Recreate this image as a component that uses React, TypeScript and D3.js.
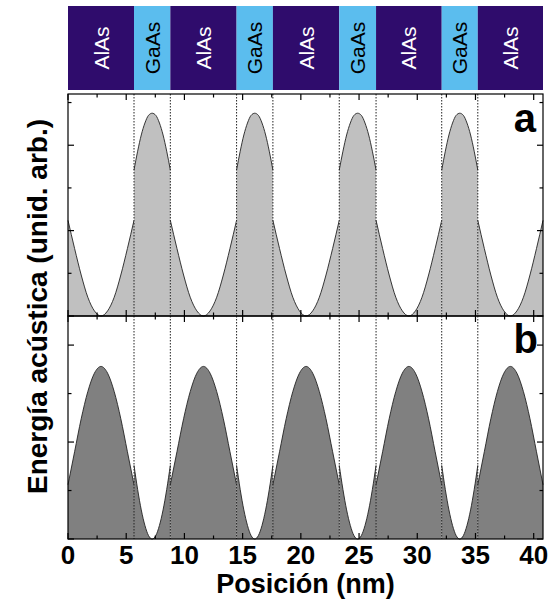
import React from "react";
import * as d3 from "d3";

// Layer interfaces (nm) and materials
const interfaces = [0, 5.67, 8.79, 14.48, 17.6, 23.3, 26.46, 32.1, 35.2, 40.8];
const materials = ["AlAs", "GaAs", "AlAs", "GaAs", "AlAs", "GaAs", "AlAs", "GaAs", "AlAs"];

// Relative position inside each layer (0 = left interface, 1 = right interface)
const profileFrac = [0, 0.1, 0.2, 0.3, 0.4, 0.5, 0.6, 0.7, 0.8, 0.9, 1];

// Panel a: acoustic energy (arb. units) inside AlAs and GaAs layers
const energyA_AlAs = [1.12, 0.79, 0.48, 0.22, 0.06, 0, 0.06, 0.22, 0.48, 0.79, 1.12];
const energyA_GaAs = [1.71, 1.93, 2.12, 2.26, 2.35, 2.375, 2.35, 2.26, 2.12, 1.93, 1.71];

// Panel b
const energyB_AlAs = [0.56, 0.9, 1.24, 1.52, 1.71, 1.78, 1.71, 1.52, 1.24, 0.9, 0.56];
const energyB_GaAs = [0.76, 0.51, 0.3, 0.14, 0.035, 0, 0.035, 0.14, 0.3, 0.51, 0.76];

const xTickValues = [0, 5, 10, 15, 20, 25, 30, 35, 40];
const xTickLabels = ["0", "5", "10", "15", "20", "25", "30", "35", "40"];
const xMinorTicks = [2.5, 7.5, 12.5, 17.5, 22.5, 27.5, 32.5, 37.5];
const yTicksA = [0, 0.5, 1, 1.5, 2, 2.5];
const yTicksB = [0, 0.5, 1, 1.5, 2];

const xTitle = "Posición (nm)";
const yTitle = "Energía acústica (unid. arb.)";

const COL_ALAS = "#2f0c6c";
const COL_GAAS = "#5bbdee";
const FONT = "'Liberation Sans', Arial, Helvetica, sans-serif";

export default function App() {
  const left = 68, right = 543;
  const bandTop = 6, bandBottom = 90;
  const aTop = 94, mid = 316, bBottom = 539;

  const x = d3.scaleLinear().domain([0, 40.8]).range([left, right]);
  const yA = d3.scaleLinear().domain([0, 2.6]).range([mid, aTop]);
  const yB = d3.scaleLinear().domain([0, 2.3]).range([bBottom, mid]);

  const layers = materials.map((m, i) => ({ m, x0: interfaces[i], x1: interfaces[i + 1] }));

  const buildPts = (vals: number[], x0: number, x1: number) =>
    profileFrac.map((f, i) => [x0 + f * (x1 - x0), vals[i]] as [number, number]);

  const panel = (
    ys: d3.ScaleLinear<number, number>,
    alVals: number[],
    gaVals: number[],
    fill: string,
    key: string
  ) => {
    const area = d3
      .area<[number, number]>()
      .x((d) => x(d[0]))
      .y0(ys(0))
      .y1((d) => ys(d[1]))
      .curve(d3.curveMonotoneX);
    const line = d3
      .line<[number, number]>()
      .x((d) => x(d[0]))
      .y((d) => ys(d[1]))
      .curve(d3.curveMonotoneX);
    return layers.map((l, i) => {
      const pts = buildPts(l.m === "AlAs" ? alVals : gaVals, l.x0, l.x1);
      return (
        <g key={key + i}>
          <path d={area(pts) || ""} fill={fill} stroke="none" />
          <path d={line(pts) || ""} fill="none" stroke="#222" strokeWidth={0.9} />
        </g>
      );
    });
  };

  const xTicks = (y: number, dir: number, k: string) => (
    <g key={k}>
      {xTickValues.map((v) => (
        <line key={k + "M" + v} x1={x(v)} x2={x(v)} y1={y} y2={y + dir * 6} stroke="#000" strokeWidth={1.2} />
      ))}
      {xMinorTicks.map((v) => (
        <line key={k + "m" + v} x1={x(v)} x2={x(v)} y1={y} y2={y + dir * 3.5} stroke="#000" strokeWidth={1.2} />
      ))}
    </g>
  );

  const yTicks = (ys: d3.ScaleLinear<number, number>, vals: number[], k: string) => (
    <g key={k}>
      {vals.map((v) => {
        const len = Number.isInteger(v) ? 6 : 3.5;
        return (
          <g key={k + v}>
            <line x1={left} x2={left + len} y1={ys(v)} y2={ys(v)} stroke="#000" strokeWidth={1.2} />
            <line x1={right} x2={right - len} y1={ys(v)} y2={ys(v)} stroke="#000" strokeWidth={1.2} />
          </g>
        );
      })}
    </g>
  );

  const inner = interfaces.slice(1, -1);

  return (
    <svg
      width={550}
      height={605}
      style={{ position: "absolute", left: 0, top: 0, background: "#fff" }}
      fontFamily={FONT}
    >
      <rect x={0} y={0} width={550} height={605} fill="#fff" />
      {/* Layer band */}
      {layers.map((l, i) => {
        const cx = (x(l.x0) + x(l.x1)) / 2;
        const cy = (bandTop + bandBottom) / 2;
        return (
          <g key={"band" + i}>
            <rect
              x={x(l.x0)}
              y={bandTop}
              width={x(l.x1) - x(l.x0)}
              height={bandBottom - bandTop}
              fill={l.m === "AlAs" ? COL_ALAS : COL_GAAS}
            />
            <text
              transform={`translate(${cx},${cy}) rotate(-90)`}
              textAnchor="middle"
              dominantBaseline="central"
              fontSize={21}
              fill={l.m === "AlAs" ? "#fff" : "#000"}
            >
              {l.m}
            </text>
          </g>
        );
      })}

      {/* Panels */}
      {panel(yA, energyA_AlAs, energyA_GaAs, "#c0c0c0", "a")}
      {panel(yB, energyB_AlAs, energyB_GaAs, "#808080", "b")}

      {/* Interface dotted lines */}
      {inner.map((v) => (
        <line
          key={"dl" + v}
          x1={x(v)}
          x2={x(v)}
          y1={aTop}
          y2={bBottom}
          stroke="#222"
          strokeWidth={1}
          strokeDasharray="1.5,1.5"
        />
      ))}

      {/* Frames */}
      <rect x={left} y={aTop} width={right - left} height={mid - aTop} fill="none" stroke="#000" strokeWidth={1.2} />
      <rect x={left} y={mid} width={right - left} height={bBottom - mid} fill="none" stroke="#000" strokeWidth={1.2} />

      {xTicks(aTop, 1, "ta")}
      {xTicks(mid, -1, "ba")}
      {xTicks(mid, 1, "tb")}
      {xTicks(bBottom, -1, "bb")}
      {yTicks(yA, yTicksA, "ya")}
      {yTicks(yB, yTicksB, "yb")}

      {/* Panel labels */}
      <text x={536} y={132} textAnchor="end" fontSize={40} fontWeight="bold">a</text>
      <text x={538} y={353} textAnchor="end" fontSize={40} fontWeight="bold">b</text>

      {/* X tick labels */}
      {xTickValues.map((v, i) => (
        <text key={"xl" + v} x={x(v)} y={564} textAnchor="middle" fontSize={26} fontWeight="bold">
          {xTickLabels[i]}
        </text>
      ))}

      {/* Axis titles */}
      <text x={(left + right) / 2} y={593} textAnchor="middle" fontSize={27} fontWeight="bold">
        {xTitle}
      </text>
      <text
        transform={`translate(47,${(aTop + bBottom) / 2 - 10}) rotate(-90)`}
        textAnchor="middle"
        fontSize={28}
        fontWeight="bold"
      >
        {yTitle}
      </text>
    </svg>
  );
}
